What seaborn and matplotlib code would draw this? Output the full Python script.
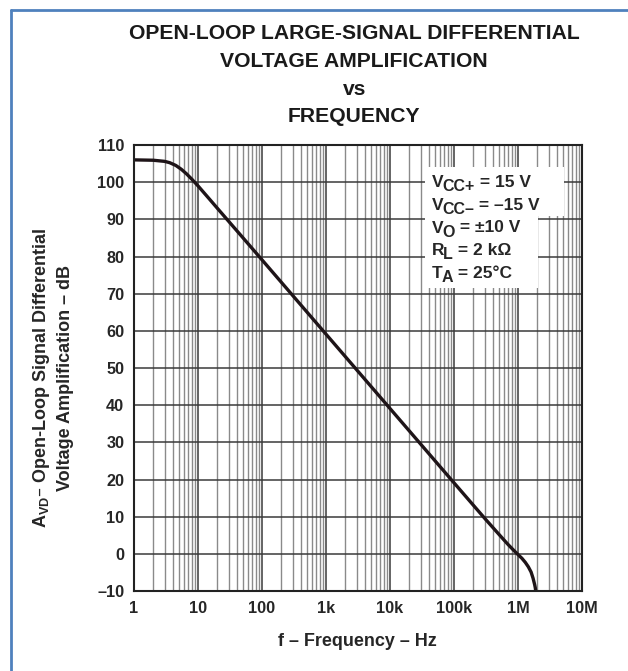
import matplotlib
matplotlib.use("Agg")
import matplotlib.pyplot as plt
from matplotlib.lines import Line2D
from matplotlib.patches import Rectangle
from matplotlib.ticker import LogLocator, FixedLocator, NullFormatter
import seaborn as sns
import pandas as pd

# curve
freq_hz = [1, 2, 3, 3.6, 4.5, 5.5, 6.6, 8, 10, 15, 20, 50, 100, 1e3, 1e4,
           1e5, 2e5, 3e5, 5e5, 7e5, 8.5e5, 1e6, 1.15e6, 1.3e6, 1.45e6,
           1.6e6, 1.72e6, 1.82e6, 1.86e6, 1.89e6]
gain_db = [106, 105.9, 105.6, 105.25, 104.5, 103.45, 102.25, 100.8, 99.0,
           95.5, 93.0, 85.1, 79.1, 59.1, 39.1, 19.1, 13.1, 9.6, 5.3, 2.5,
           1.0, -0.2, -1.2, -2.3, -3.5, -4.9, -6.6, -8.3, -9.1, -10]

x_ticks = [1, 10, 100, 1e3, 1e4, 1e5, 1e6, 1e7]
x_labels = ["1", "10", "100", "1k", "10k", "100k", "1M", "10M"]
y_ticks = list(range(-10, 111, 10))
y_labels = ["\u201310" if v < 0 else str(v) for v in y_ticks]

# test conditions: symbol, subscript, rest
cond_sym = ["V", "V", "V", "R", "T"]
cond_sub = ["CC+", "CC\u2013", "O", "L", "A"]
cond_rest = [" = 15 V", " = \u201315 V", " = \u00b110 V", " = 2 k\u03a9", " = 25\u00b0C"]

df = pd.DataFrame({"f": freq_hz, "gain": gain_db})

sns.set_style("white")
plt.rcParams["font.family"] = ["Liberation Sans", "DejaVu Sans"]
plt.rcParams["font.weight"] = "bold"

fig = plt.figure(figsize=(6.28, 6.71), dpi=100)
ax = fig.add_axes([0.2134, 0.1192, 0.7134, 0.6647])

ax.set_xscale("log")
ax.set_xlim(1, 1e7)
ax.set_ylim(-10, 110)

# grid
ax.xaxis.set_major_locator(FixedLocator(x_ticks))
ax.xaxis.set_minor_locator(LogLocator(base=10, subs=range(2, 10), numticks=20))
ax.xaxis.set_minor_formatter(NullFormatter())
ax.yaxis.set_major_locator(FixedLocator(y_ticks))
ax.grid(which="major", axis="both", color="#3a3a3a", lw=1.1)
ax.grid(which="minor", axis="x", color="#8a8a8a", lw=1.0)
ax.set_axisbelow(True)

sns.lineplot(data=df, x="f", y="gain", ax=ax, color="#1e1418", lw=2.4)

ax.set_xticklabels(x_labels)
ax.set_yticklabels(y_labels)
ax.tick_params(which="both", length=0, labelsize=11.7, pad=7)
for lbl in ax.get_xticklabels() + ax.get_yticklabels():
    lbl.set_fontweight("bold")
for s in ax.spines.values():
    s.set_color("#222222")
    s.set_linewidth(1.5)

ax.set_xlabel("f \u2013 Frequency \u2013 Hz", fontsize=13, fontweight="bold")
ax.xaxis.set_label_coords(0.498, -0.094)
ax.set_ylabel("A$_{\\mathregular{VD}}$\u2013 Open-Loop Signal Differential\nVoltage Amplification \u2013 dB",
              fontsize=13, fontweight="bold", linespacing=1.4)
ax.yaxis.set_label_coords(-0.134, 0.478)

# white panel behind the conditions
ax.add_patch(Rectangle((0.650, 0.840), 0.310, 0.110, transform=ax.transAxes,
                       facecolor="white", edgecolor="none", zorder=4))
ax.add_patch(Rectangle((0.650, 0.680), 0.252, 0.165, transform=ax.transAxes,
                       facecolor="white", edgecolor="none", zorder=4))

baselines = [0.906, 0.854, 0.803, 0.753, 0.702]
for sym, sub, rest, yb in zip(cond_sym, cond_sub, cond_rest, baselines):
    t1 = ax.text(0.665, yb, sym, transform=ax.transAxes, ha="left",
                 va="baseline", fontsize=12.5, fontweight="bold", zorder=5)
    t2 = ax.annotate(sub, xy=(1, 0), xycoords=t1, xytext=(-0.8, -0.8),
                     textcoords="offset points", ha="left", va="baseline",
                     fontsize=11.5, fontweight="bold", zorder=5)
    ax.annotate(rest, xy=(1, 0), xycoords=t2, xytext=(0, 5.4),
                textcoords="offset points", ha="left", va="baseline",
                fontsize=12.5, fontweight="bold", zorder=5)

title_lines = ["OPEN-LOOP LARGE-SIGNAL DIFFERENTIAL", "VOLTAGE AMPLIFICATION",
               "vs", "FREQUENCY"]
for txt, yy in zip(title_lines, [0.95, 0.908, 0.866, 0.826]):
    fig.text(0.564, yy, txt, ha="center", va="center", fontsize=15.2,
             fontweight="bold", color="#1a1a1a")

# page frame of the datasheet
fig.add_artist(Line2D([0.0175, 1.0], [0.985, 0.985], transform=fig.transFigure,
                      color="#4f81bd", lw=2))
fig.add_artist(Line2D([0.0175, 0.0175], [0.0, 0.985], transform=fig.transFigure,
                      color="#4f81bd", lw=2))

fig.savefig("out.png", dpi=100)
